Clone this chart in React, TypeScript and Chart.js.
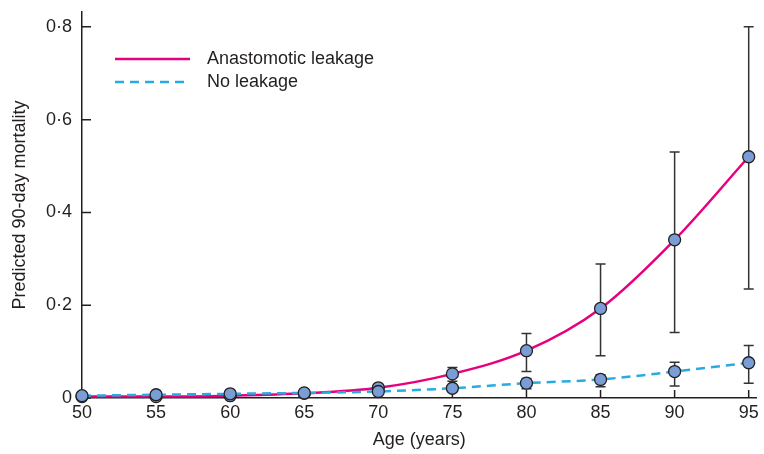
import React, { useEffect, useRef } from 'react';
import { Chart, registerables } from 'chart.js';
Chart.register(...registerables);

const ages = [50, 55, 60, 65, 70, 75, 80, 85, 90, 95];
const leakValues = [0.003, 0.003, 0.005, 0.01, 0.022, 0.052, 0.102, 0.193, 0.341, 0.52];
const leakLower = [0.002, 0.002, 0.003, 0.007, 0.017, 0.036, 0.057, 0.091, 0.141, 0.235];
const leakUpper = [0.005, 0.005, 0.007, 0.014, 0.028, 0.066, 0.139, 0.289, 0.53, 0.8];
const noLeakValues = [0.005, 0.007, 0.009, 0.011, 0.014, 0.021, 0.032, 0.04, 0.057, 0.076];
const noLeakLower = [0.003, 0.005, 0.007, 0.009, 0.011, 0.016, 0.02, 0.024, 0.026, 0.032];
const noLeakUpper = [0.007, 0.009, 0.011, 0.013, 0.017, 0.026, 0.042, 0.05, 0.077, 0.113];
const yTicks = [0, 0.2, 0.4, 0.6, 0.8];
const xTicks = [50, 55, 60, 65, 70, 75, 80, 85, 90, 95];
const legendLabels = ['Anastomotic leakage', 'No leakage'];

const FONT = "'Liberation Sans', Arial, Helvetica, sans-serif";
const FS = 18;
const MAGENTA = '#e6007e';
const BLUE = '#29abe2';
const POINT_FILL = '#7b9dd6';
const INK = '#231f20';

const errorBarPlugin = {
  id: 'errorBars',
  beforeDatasetsDraw(chart: any) {
    const { ctx, scales } = chart;
    const xs = scales.x, ys = scales.y;
    const sets = [
      [noLeakLower, noLeakUpper],
      [leakLower, leakUpper],
    ];
    ctx.save();
    ctx.strokeStyle = '#333';
    ctx.lineWidth = 1.5;
    sets.forEach(([lo, hi]) => {
      ages.forEach((a, i) => {
        const x = xs.getPixelForValue(a);
        const y1 = ys.getPixelForValue(lo[i]);
        const y2 = ys.getPixelForValue(hi[i]);
        ctx.beginPath();
        ctx.moveTo(x, y1);
        ctx.lineTo(x, y2);
        ctx.moveTo(x - 5, y1);
        ctx.lineTo(x + 5, y1);
        ctx.moveTo(x - 5, y2);
        ctx.lineTo(x + 5, y2);
        ctx.stroke();
      });
    });
    ctx.restore();
  },
};

const ticksPlugin = {
  id: 'inwardTicks',
  beforeDatasetsDraw(chart: any) {
    const { ctx, scales, chartArea } = chart;
    ctx.save();
    ctx.strokeStyle = INK;
    ctx.lineWidth = 1.5;
    ctx.beginPath();
    xTicks.forEach((v) => {
      const x = scales.x.getPixelForValue(v);
      ctx.moveTo(x, chartArea.bottom);
      ctx.lineTo(x, chartArea.bottom - 8);
    });
    yTicks.forEach((v) => {
      const y = scales.y.getPixelForValue(v);
      ctx.moveTo(chartArea.left, y);
      ctx.lineTo(chartArea.left + 9, y);
    });
    ctx.stroke();
    ctx.restore();
  },
};

const legendPlugin = {
  id: 'customLegend',
  afterDraw(chart: any) {
    const { ctx } = chart;
    ctx.save();
    ctx.lineWidth = 2.5;
    ctx.strokeStyle = MAGENTA;
    ctx.setLineDash([]);
    ctx.beginPath();
    ctx.moveTo(115, 59);
    ctx.lineTo(190, 59);
    ctx.stroke();
    ctx.strokeStyle = BLUE;
    ctx.setLineDash([9, 6]);
    ctx.beginPath();
    ctx.moveTo(115, 82);
    ctx.lineTo(190, 82);
    ctx.stroke();
    ctx.setLineDash([]);
    ctx.fillStyle = INK;
    ctx.font = `${FS}px ${FONT}`;
    ctx.textBaseline = 'middle';
    ctx.textAlign = 'left';
    ctx.fillText(legendLabels[0], 207, 59);
    ctx.fillText(legendLabels[1], 207, 82);
    ctx.restore();
  },
};

const fmt = (v: number) => (v === 0 ? '0' : v.toFixed(1).replace('.', '·'));

const zeroPad = (s: any) => {
  s.paddingLeft = 0;
  s.paddingRight = 0;
  s.paddingTop = 0;
  s.paddingBottom = 0;
};

export default function App() {
  const ref = useRef<HTMLCanvasElement | null>(null);
  useEffect(() => {
    document.body.style.margin = '0';
    const chart = new Chart(ref.current as HTMLCanvasElement, {
      type: 'line',
      data: {
        datasets: [
          {
            label: legendLabels[1],
            data: ages.map((a, i) => ({ x: a, y: noLeakValues[i] })),
            borderColor: BLUE,
            borderWidth: 2.5,
            borderDash: [9, 6],
            cubicInterpolationMode: 'monotone',
            pointRadius: 6,
            pointBackgroundColor: POINT_FILL,
            pointBorderColor: '#222',
            pointBorderWidth: 1.3,
            clip: false as any,
          },
          {
            label: legendLabels[0],
            data: ages.map((a, i) => ({ x: a, y: leakValues[i] })),
            borderColor: MAGENTA,
            borderWidth: 2.5,
            cubicInterpolationMode: 'monotone',
            pointRadius: 6,
            pointBackgroundColor: POINT_FILL,
            pointBorderColor: '#222',
            pointBorderWidth: 1.3,
            clip: false as any,
          },
        ],
      },
      options: {
        animation: false,
        responsive: false,
        devicePixelRatio: 1,
        layout: { padding: { top: 12, right: 2, bottom: 0, left: 0 } },
        plugins: { legend: { display: false }, tooltip: { enabled: false } },
        scales: {
          x: {
            type: 'linear',
            min: 50,
            max: 95.54,
            afterBuildTicks: (s: any) => {
              s.ticks = xTicks.map((v) => ({ value: v }));
            },
            afterFit: (s: any) => {
              s.height = 56;
              zeroPad(s);
            },
            grid: { display: false, drawTicks: false },
            border: { display: true, color: INK, width: 1.5 },
            ticks: {
              color: INK,
              font: { size: FS, family: FONT },
              padding: 4,
              maxRotation: 0,
              autoSkip: false,
              callback: (v: any) => String(v),
            },
            title: {
              display: true,
              text: 'Age (years)',
              color: INK,
              font: { size: FS, family: FONT },
              padding: { top: 0, bottom: 3 },
            },
          },
          y: {
            type: 'linear',
            min: 0,
            max: 0.832,
            afterBuildTicks: (s: any) => {
              s.ticks = yTicks.map((v) => ({ value: v }));
            },
            afterFit: (s: any) => {
              s.width = 82;
              zeroPad(s);
            },
            grid: { display: false, drawTicks: false },
            border: { display: true, color: INK, width: 1.5 },
            ticks: {
              color: INK,
              font: { size: FS, family: FONT },
              padding: 10,
              callback: (v: any) => fmt(Number(v)),
            },
            title: {
              display: true,
              text: 'Predicted 90-day mortality',
              color: INK,
              font: { size: FS, family: FONT },
              padding: { top: 9, bottom: 0 },
            },
          },
        },
      } as any,
      plugins: [ticksPlugin, errorBarPlugin, legendPlugin],
    });
    return () => chart.destroy();
  }, []);
  return (
    <div style={{ position: 'absolute', left: 0, top: 0, width: 764, height: 454 }}>
      <canvas ref={ref} width={764} height={454} style={{ width: 764, height: 454 }} />
    </div>
  );
}
